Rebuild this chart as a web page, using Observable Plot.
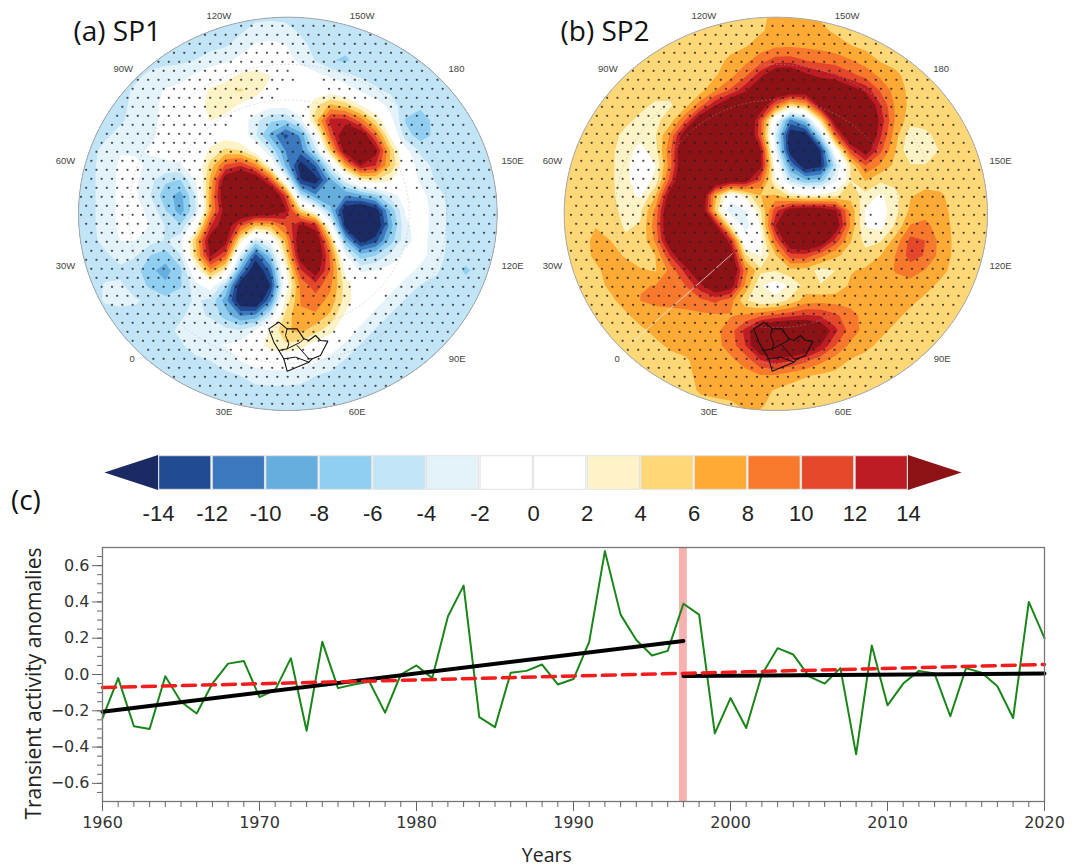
<!DOCTYPE html>
<html><head><meta charset="utf-8">
<script src="https://cdn.jsdelivr.net/npm/d3@7"></script>
<script src="https://cdn.jsdelivr.net/npm/@observablehq/plot@0.6"></script>
<style>
html,body{margin:0;padding:0;background:#fff}
#page{position:relative;width:1079px;height:868px;overflow:hidden}
#page svg{position:absolute;overflow:visible;background:none}
</style></head><body><div id="page"></div>
<script>
// Colour classes
const classBreaks = [-14,-12,-10,-8,-6,-4,-2,0,2,4,6,8,10,12,14];
const classColors = ["#1b2a63","#204a92","#3c78bd","#65aede","#90cff2","#c1e5f7","#e4f3f9","#ffffff","#ffffff","#fef3c6","#fed777","#feaa34","#f8792c","#e4472a","#bd1c24","#8c1215"];
const legendTicks = ["-14","-12","-10","-8","-6","-4","-2","0","2","4","6","8","10","12","14"];
// Field classes, one character per cell
const classValues = {A:-22,B:-14,C:-11,D:-9,E:-7,F:-5,G:-3,".":0,":":-1,h:3,i:5,j:7,k:9,l:11,m:14,n:22};
const fieldA = [
"FFFFFFFFFFFFFFFFFFFFFFFFFFFFFF",
"FFFFFFFFFFFFGGGFFFFFFFFFFFFFFF",
"FFFFFFFFFFFG:::GFFFFFFFFFFFFFF",
"FFFFFFFFFGGG:::GFDDFFFFFFFFFFF",
"FFFFFGGG:::iii:..:GFFFFFFFFFFF",
"FFFFGG:::iiji:...::GFFFFFFFFFF",
"FFFFGG:::ii.....hji..GFFFGFFFF",
"FFFFGG:::i:.FEFGknmkh.DDFGFFFF",
"FFFGGG::::..FCABFlnnk.DDFFFFFF",
"FFG:G::::hih.GDCGjnnni.FFFFFFF",
"FFG::G:::ilmk:CABFjnmj:GFFFFFF",
"FFG::GEDGinnnm:AADFhih.GFFFFFF",
"FFG::FDCEknnnnnCCCDDEG..GFFFFF",
"FFG:::FBDjmnnnn::EAAAE..GFFFFF",
"FFG:::GDGmnkhhjnn:AAAD..GFFFFF",
"FFG::GGGjnn.D:hnnkDABEG.GFFFFF",
"FFFGGEDEjnmFAEhnnlGEFG..GFFFFF",
"FFFFFDCDGmiDABhlnl:G:..GGFDFFF",
"FFGGFEDEG.FAAAhklkh...GFFFFFFF",
"FFGGGGFFGFDAABjkkkh..GFFFFFFFF",
"FFFFFGFFGFECCFjkkj..GFFFFFFFFF",
"FFFFFFFG.:GG:ijkih.GFFFFFFFFFF",
"FFFFFFFFG:::hiih:.GFFFFFFFFFFF",
"FFFFFFFFFFG::::::GFFFFFFFFFFFF",
"FFFFFFFFFFFFGGGGFFFFFFFFFFFFFF",
"FFFFFFFFFFFFFFFFFFFFFFFFFFFFFF",
"FFFFFFFFFFFFFFFFFFFFFFFFFFFFFF",
"FFFFFFFFFFFFFFFFFFFFFFFFFFFFFF"];
const fieldB = [
"iiiiiiiiiiiiiijjjiiiiiiiiiiiii",
"iiiiiiiiiiiiiijjjjiiiiiiiiiiii",
"iiiiiiiiiiiiijjjjjjiiiiiiiiiii",
"iiiiiiiiiiijjkkkkkkkjiiiiiiiii",
"iiiiiiiiiiijklnnmllkkjjiiiiiii",
"iiiiiiiihhjjlnnnnnnmmkjiiiiiii",
"iiiiiihhhjmnnnkhhnnnnljiiiiiii",
"iiiiihhhjnnnnkFAD.nnnmjiiiiiii",
"iiiihhhjnnnnnkGAAFmnnlj:iiiiii",
"iiiih:hknnnnnnFAAA.mnkj::iiiii",
"iiiih::jnnnnnn:DAAF:mjiiiiiiii",
"iiiih::knnnnnk:EEEFjjhiiiiiiii",
"iiiih:hnnn:C:jk::::jh:hjjjiiii",
"iiiihhjnnn:B:hlnnnnj:.hjjjiiii",
"iijihhjnnnn:D:nnnnnj::hkkjiiii",
"iijjhhjnnnnnC:knnnkihhjmljiiii",
"iijjjhhlnnnn::hmljiihjjmljiiii",
"iiijjjhjknnnkjiih:hjjjkkjjiiii",
"iiijjkkkklnnj:::jhhjjjjjjiiiii",
"iiiijkkkkkkj:::hjjjjjjjjiiiiii",
"iiiiijjjjjjjkklllllkjjjiiiiiii",
"iiiiiijjjjjkmnnnnnmkjjiihhiiii",
"iiiiiiijjjjklnnnnmkjjiiiiiiiii",
"iiiiiiiiijjjjlmlkjjiiiiiiiiiii",
"iiiiiiiiijjjjjjiiiiiiiiiiiiiii",
"iiiiiiiiijjjjjiiiiiiiiiiiiiiii",
"iiiiiiiiiiiijjiiiiiiiiiiiiiiii",
"iiiiiiiiiiiiiiiiiiiiiiiiiiiiii"];
// Region outline
const outlineX = [625,655,680,710,730,745,765,780,802,780,755,745,680,670,655,640,625];
const outlineY = [985,965,985,985,1015,1020,1005,1020,1022,1065,1075,1085,1112,1075,1050,1025,985];
const borderX = [[655,680,720,730],[680,675,685,680],[710,745,755],[670,705,745]];
const borderY = [[1050,1045,1025,1015],[985,1005,1030,1045],[1035,1075,1075],[1075,1070,1085]];
const lonLabels = ["120W","150W","90W","180","60W","150E","30W","120E","0","90E","30E","60E"];
const lonXA = [475,905,188,1188,15,1356,15,1356,215,1190,490,890];
const lonXB = [460,890,172,1172,6,1350,6,1350,200,1175,475,878];
const lonY = [45,45,205,205,480,480,797,797,1075,1075,1235,1235];
// Time series
const years = d3.range(1960,2021);
const activity = [-0.24,-0.02,-0.285,-0.30,-0.01,-0.15,-0.215,-0.05,0.06,0.075,-0.125,-0.085,0.09,-0.31,0.18,-0.075,-0.055,-0.04,-0.21,0.0,0.05,-0.02,0.32,0.49,-0.235,-0.29,0.01,0.02,0.055,-0.055,-0.025,0.18,0.68,0.33,0.19,0.105,0.13,0.39,0.33,-0.325,-0.13,-0.295,0.0,0.145,0.11,-0.01,-0.05,0.035,-0.44,0.16,-0.17,-0.05,0.02,0.005,-0.23,0.035,0.01,-0.065,-0.24,0.40,0.20];
const trendEarly = [[1960,-0.205],[1997,0.185]];
const trendLate = [[1997,-0.008],[2020,0.005]];
const trendAll = [[1960,-0.072],[2020,0.055]];
const breakYears = [1996.75,1997.25];

const page = document.getElementById("page");
function place(svg,left,top){svg.style.left=left+"px";svg.style.top=top+"px";page.appendChild(svg);}
const colorScale = {type:"threshold",domain:classBreaks,range:classColors};
const mapFont = "Liberation Sans";

function mapPanel({field,lonX,title,titleX,cx,rx,left,width,domainEnd,shift,id,meridian}){
  const ry = 590, cy = 640, cell = 45, first = 22.5;
  const rows = field.map(r=>r.padEnd(30,r[0]).slice(0,30));
  const values = rows.flatMap(r=>Array.from(r,c=>classValues[c]));
  const stipple = [];
  d3.range(0,48).forEach(k=>d3.range(0,46).forEach(m=>{
    const x = 15 + m*31 + (k%2?15.5:0), y = 22 + k*27;
    if (((x-cx)/rx)**2+((y-cy)/ry)**2 > 0.985) return;
    const c = rows[Math.floor((y-first)/cell)]?.[Math.floor((x-first)/cell)];
    if (c && c!==".") stipple.push([x,y]);
  }));
  const ring = f => d3.range(0,361,3).map(a=>[cx+f*rx*Math.cos(a*Math.PI/180),cy+f*ry*Math.sin(a*Math.PI/180)]);
  const outline = outlineX.map((x,i)=>[x+shift,outlineY[i]]);
  const borders = borderX.map((xs,b)=>xs.map((x,i)=>[x+shift,borderY[b][i]]));
  const svg = Plot.plot({
    width,height:430,margin:0,
    x:{domain:[-90,domainEnd],range:[0,width],axis:null},
    y:{domain:[0,1290],range:[0,430],axis:null},
    color:colorScale,
    marks:[
      Plot.contour(values,{width:30,height:28,x1:first,x2:first+30*cell,y1:first,y2:first+28*cell,
        fill:Plot.identity,thresholds:[-100,...classBreaks],blur:0.12,stroke:"none"}),
      Plot.line(ring(0.76),{stroke:"#aaa",strokeWidth:0.7,strokeDasharray:"1,3",strokeOpacity:0.6}),
      Plot.line(ring(0.58),{stroke:"#aaa",strokeWidth:0.7,strokeDasharray:"1,3",strokeOpacity:0.6}),
      ...(meridian?[Plot.line(meridian,{stroke:"#eee",strokeWidth:0.8,strokeDasharray:"2,1"})]:[]),
      Plot.dot(stipple,{x:d=>d[0],y:d=>d[1],r:1.15,fill:"#222",fillOpacity:0.8,stroke:"none"}),
      Plot.line(outline,{stroke:"#111",strokeWidth:1.1}),
      ...borders.map(b=>Plot.line(b,{stroke:"#111",strokeWidth:1})),
      Plot.line(ring(1),{stroke:"#a8a8a8",strokeWidth:1}),
      Plot.text(lonLabels,{x:(d,i)=>lonX[i],y:(d,i)=>lonY[i],text:d=>d,fontSize:9.5,fill:"#444",fontFamily:mapFont}),
      Plot.text([title],{x:titleX,y:95,text:d=>d,fontSize:28,fill:"#111",textAnchor:"start",fontFamily:"Open Sans"})
    ]
  });
  const s = d3.select(svg);
  s.append("defs").append("clipPath").attr("id",id).append("ellipse")
    .attr("cx",(cx+90)/3).attr("cy",cy/3).attr("rx",rx/3).attr("ry",ry/3);
  s.selectAll('g[aria-label="contour"]').attr("clip-path",`url(#${id})`);
  place(svg,left,0);
}
mapPanel({field:fieldA,lonX:lonXA,title:"(a) SP1",titleX:39,cx:682,rx:628,left:30,width:500,domainEnd:1410,shift:0,id:"clipA"});
mapPanel({field:fieldB,lonX:lonXB,title:"(b) SP2",titleX:30,cx:676,rx:635,left:520,width:540,domainEnd:1530,shift:-15,id:"clipB",
  meridian:[[545,760],[240,1030]]});

// Colour bar
const boxes = classBreaks.slice(0,-1).map((b,i)=>({x1:b,x2:classBreaks[i+1]}));
const arrows = [
  [{x:-14,y1:0,y2:1},{x:-16,y1:0.5,y2:0.5}],
  [{x:14,y1:0,y2:1},{x:16,y1:0.5,y2:0.5}]];
const legend = Plot.plot({
  width:1079,height:75,margin:0,
  x:{domain:[-14,14],range:[158,908],axis:null},
  y:{domain:[0,1],range:[40,5],axis:null},
  color:colorScale,
  marks:[
    Plot.rect(boxes,{x1:"x1",x2:"x2",y1:0,y2:1,fill:d=>(d.x1+d.x2)/2,stroke:"#e2e2e2",strokeWidth:1,inset:0.7}),
    Plot.area(arrows[0],{x1:"x",y1:"y1",y2:"y2",fill:()=>-20}),
    Plot.area(arrows[1],{x1:"x",y1:"y1",y2:"y2",fill:()=>20}),
    Plot.text(legendTicks,{x:(d,i)=>classBreaks[i],y:-0.66,text:d=>d,fontSize:22,fill:"#222",fontFamily:mapFont}),
    Plot.text(["(c)"],{x:-18.95,y:-0.29,text:d=>d,fontSize:28,fill:"#111",fontFamily:"Open Sans"})
  ]
});
place(legend,0,450);

// Time series panel
const tickFont = "DejaVu Sans";
const lineChart = Plot.plot({
  width:1079,height:338,marginLeft:102,marginRight:35,marginTop:17,marginBottom:67,
  x:{domain:[1960,2020],label:null},
  y:{domain:[-0.7,0.7],label:null},
  style:{fontFamily:tickFont,fontSize:"16px",color:"#333"},
  marks:[
    Plot.rect(breakYears.slice(0,1),{x1:breakYears[0],x2:breakYears[1],y1:-0.7,y2:0.7,fill:"#fbb0b0"}),
    Plot.line(years,{x:d=>d,y:(d,i)=>activity[i],stroke:"#1a861a",strokeWidth:2,curve:"linear"}),
    Plot.line(trendEarly,{stroke:"#000",strokeWidth:4}),
    Plot.line(trendLate,{stroke:"#000",strokeWidth:4}),
    Plot.line(trendAll,{stroke:"#f21c1c",strokeWidth:3.5,strokeDasharray:"13,7"}),
    Plot.frame({stroke:"#777",strokeWidth:1.3}),
    Plot.axisX({ticks:d3.range(1960,2021,10),tickFormat:d=>String(d),tickSize:10,stroke:"#666",tickPadding:5,label:null,fontSize:16}),
    Plot.axisX({ticks:years,tickFormat:()=>null,tickSize:6,stroke:"#666",label:null}),
    Plot.axisY({ticks:d3.range(-0.6,0.61,0.2),tickFormat:d3.format(".1f"),tickSize:10,stroke:"#666",tickPadding:3,label:null,fontSize:16}),
    Plot.axisY({ticks:d3.range(-0.65,0.66,0.05),tickFormat:()=>null,tickSize:5,stroke:"#666",label:null}),
    Plot.text(["Transient activity anomalies"],{x:1955.65,y:-0.05,rotate:-90,text:d=>d,fontSize:21,fontFamily:"Open Sans",fill:"#222"}),
    Plot.text(["Years"],{x:1988.3,y:-1.0,text:d=>d,fontSize:19.5,fontFamily:"Open Sans",fontWeight:500,fill:"#222"})
  ]
});
place(lineChart,0,530);
</script></body></html>
